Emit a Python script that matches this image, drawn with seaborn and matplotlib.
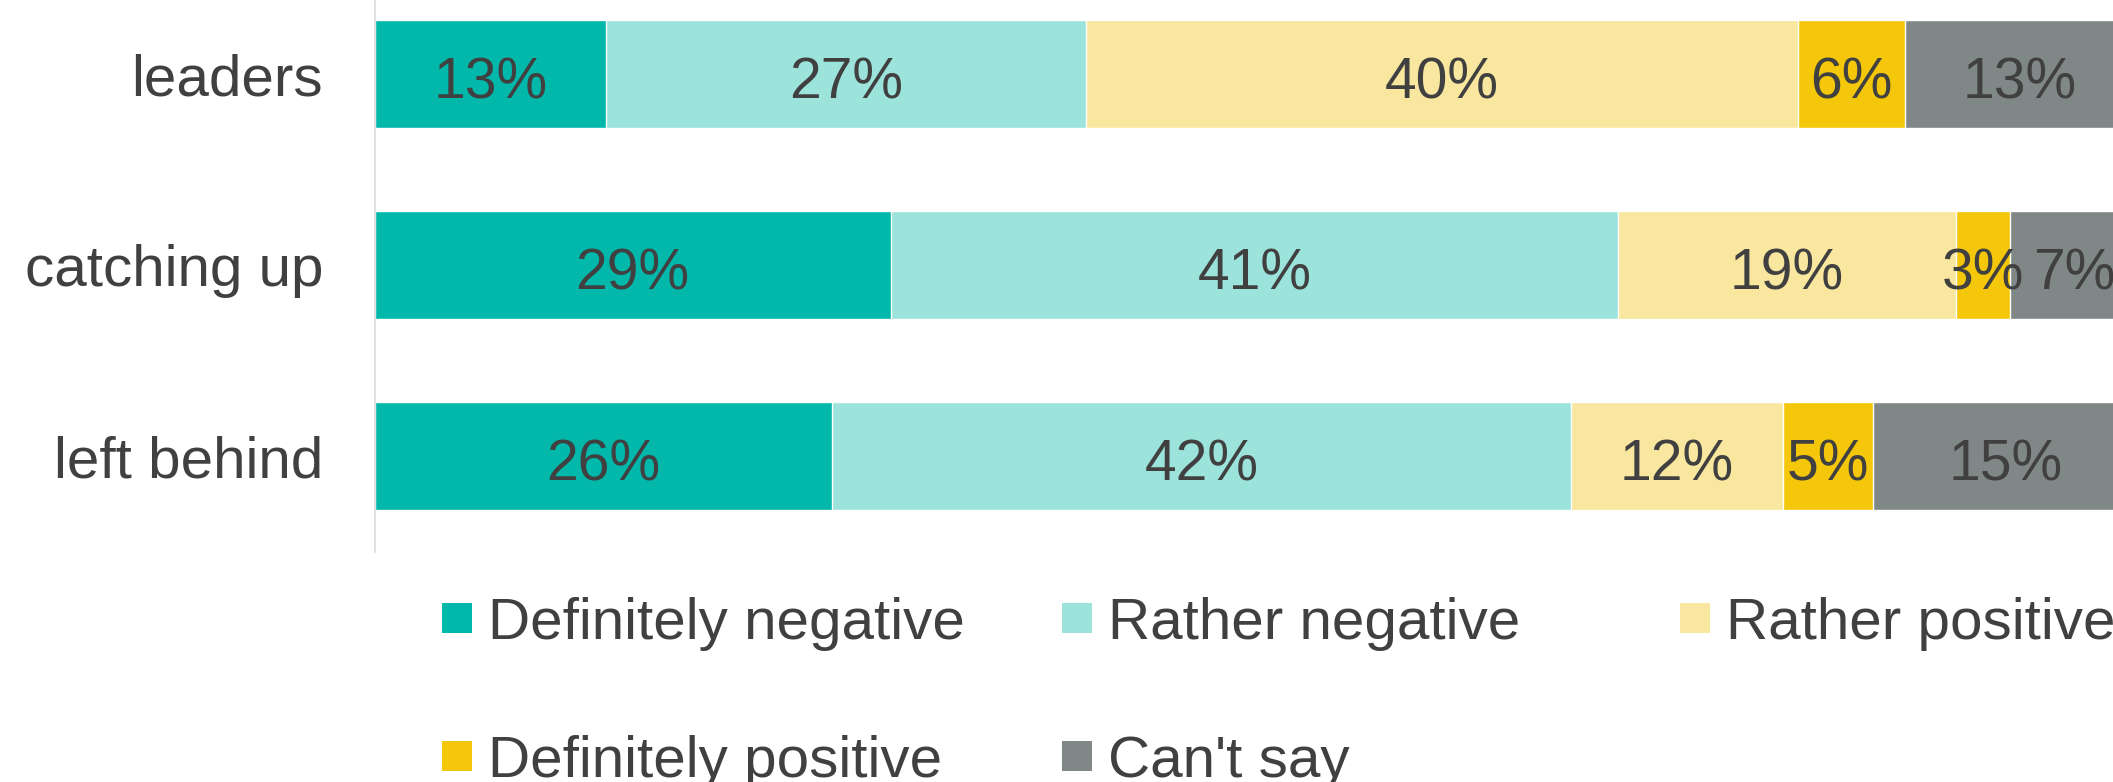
import numpy as np
import matplotlib
matplotlib.use("Agg")
import matplotlib.pyplot as plt
from matplotlib.patches import Patch
import seaborn as sns

categories = ["leaders", "catching up", "left behind"]
series = ["Definitely negative", "Rather negative", "Rather positive",
          "Definitely positive", "Can't say"]
definitely_negative = [13.0, 29.0, 25.7]
rather_negative = [27.0, 40.9, 41.55]
rather_positive = [40.0, 19.0, 11.9]
definitely_positive = [6.0, 3.05, 5.05]
cant_say = [13.0, 7.2, 15.0]
colors = ["#02B8AA", "#9CE3DB", "#F9E79F", "#F4C70A", "#808787"]

sns.set_theme(style="white")
plt.rcParams["font.family"] = ["Liberation Sans", "DejaVu Sans"]
TEXT = "#404040"

values = np.array([definitely_negative, rather_negative, rather_positive,
                   definitely_positive, cant_say])
cum = np.cumsum(values, axis=0)

fig = plt.figure(figsize=(21.13, 7.82), dpi=100)
ax = fig.add_axes([374.6 / 2113, 1 - 552 / 782, 1779 / 2113, (552 + 21.5) / 782])

for i in reversed(range(len(series))):
    sns.barplot(x=cum[i], y=categories, order=categories, orient="h",
                color=colors[i], saturation=1, width=0.565,
                edgecolor="white", linewidth=1.0, errorbar=None, ax=ax)

for i in range(len(series)):
    for j in range(len(categories)):
        center = cum[i][j] - values[i][j] / 2
        ax.annotate(f"{values[i][j]:.0f}%", xy=(center, j), xytext=(0, -6.8),
                    textcoords="offset points", ha="center", va="center",
                    fontsize=41, color=TEXT)

ax.set_xlim(0, 100)
ax.set_ylim(2.5, -0.5)
ax.set_xlabel("")
ax.set_ylabel("")
ax.set_xticks([])
for s in ["top", "right", "bottom"]:
    ax.spines[s].set_visible(False)
ax.spines["left"].set_color("#D9D9D9")
ax.spines["left"].set_linewidth(1.1)
ax.tick_params(axis="y", length=0, pad=37, labelsize=42, labelcolor=TEXT)

handles = [Patch(facecolor=c, edgecolor="none") for c in colors]
columns = [[0, 3], [1, 4], [2]]
col_x = [442 / 2113, 1062 / 2113, 1680 / 2113]
for xpos, idx in zip(col_x, columns):
    fig.legend([handles[k] for k in idx], [series[k] for k in idx],
               loc="upper left", bbox_to_anchor=(xpos, 0.2365),
               bbox_transform=fig.transFigure, frameon=False, borderpad=0,
               borderaxespad=0, handlelength=0.515, handleheight=0.4146,
               handletextpad=0.27, labelspacing=1.44, fontsize=42,
               labelcolor=TEXT)

fig.savefig("out.png", dpi=100)
